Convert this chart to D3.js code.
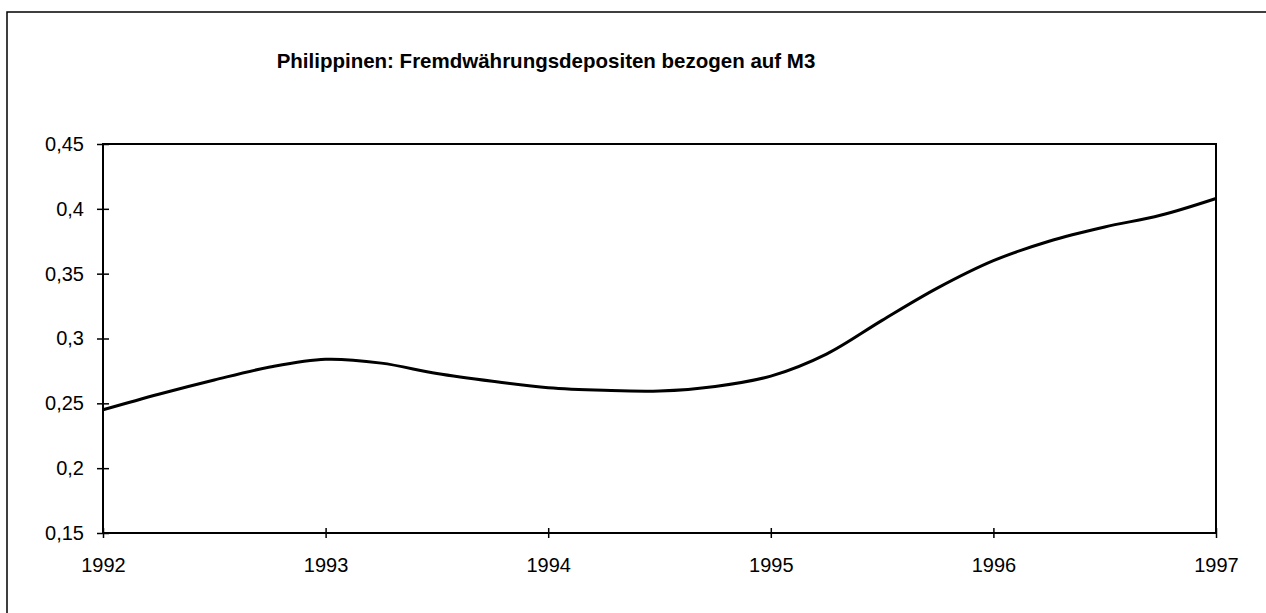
<!DOCTYPE html>
<html>
<head>
<meta charset="utf-8">
<script src="https://cdn.jsdelivr.net/npm/d3@7"></script>
<style>
  html, body { margin: 0; padding: 0; background: #fff; }
  svg { display: block; }
  .axis text { font-family: Arial, "Liberation Sans", sans-serif; font-size: 20px; fill: #000; }
  .axis path { display: none; }
  .axis line { stroke: #000; stroke-width: 1.5px; }
  .title { font-family: Arial, "Liberation Sans", sans-serif; font-size: 20.5px; font-weight: bold; }
</style>
</head>
<body>
<div id="chart"></div>
<script>
// quarterly values
const periods = [1992, 1992.25, 1992.5, 1992.75, 1993, 1993.25, 1993.5, 1993.75,
  1994, 1994.25, 1994.5, 1994.75, 1995, 1995.25, 1995.5, 1995.75,
  1996, 1996.25, 1996.5, 1996.75, 1997];
const ratio = [0.245, 0.257, 0.268, 0.278, 0.284, 0.281, 0.273, 0.267,
  0.262, 0.260, 0.2595, 0.263, 0.271, 0.288, 0.314, 0.339,
  0.360, 0.375, 0.386, 0.395, 0.408];
const xTicks = [1992, 1993, 1994, 1995, 1996, 1997];
const yTicks = [0.15, 0.2, 0.25, 0.3, 0.35, 0.4, 0.45];
const title = 'Philippinen: Fremdwährungsdepositen bezogen auf M3';

const width = 1266, height = 613;
const margin = { top: 144, right: 50, bottom: 80, left: 103 };
const innerW = 1216 - margin.left;
const innerH = 533 - margin.top;

const de = d3.formatLocale({ decimal: ',', thousands: '.', grouping: [3], currency: ['', ' €'] });
const fmt = de.format('.2~f');

const svg = d3.select('#chart').append('svg')
  .attr('width', width)
  .attr('height', height);

// outer chart frame (cropped by the page)
svg.append('rect')
  .attr('x', 7).attr('y', 12)
  .attr('width', width + 20).attr('height', height + 20)
  .attr('fill', 'none').attr('stroke', '#000').attr('stroke-width', 1.5);

svg.append('text')
  .attr('class', 'title')
  .attr('x', 546).attr('y', 68)
  .attr('text-anchor', 'middle')
  .text(title);

const chart = svg.append('g')
  .attr('transform', `translate(${margin.left}, ${margin.top})`);

const x = d3.scaleLinear().domain([1992, 1997]).range([0, innerW]);
const y = d3.scaleLinear().domain([0.15, 0.45]).range([innerH, 0]);

// plot frame
chart.append('rect')
  .attr('width', innerW).attr('height', innerH)
  .attr('fill', 'none').attr('stroke', '#000').attr('stroke-width', 2);

const yAxis = chart.append('g')
  .attr('class', 'axis axis-y')
  .call(d3.axisLeft(y).tickValues(yTicks).tickFormat(fmt).tickSize(6).tickPadding(13));
yAxis.selectAll('.tick line').attr('x1', 6);

const xAxis = chart.append('g')
  .attr('class', 'axis axis-x')
  .attr('transform', `translate(0, ${innerH})`)
  .call(d3.axisBottom(x).tickValues(xTicks).tickFormat(d3.format('d')).tickSize(5).tickPadding(20));
xAxis.selectAll('.tick line').attr('y1', -5);

const valueLine = d3.line()
  .x((d, i) => x(periods[i]))
  .y(d => y(d))
  .curve(d3.curveCatmullRom.alpha(0.5));

chart.append('path')
  .datum(ratio)
  .attr('fill', 'none')
  .attr('stroke', '#000')
  .attr('stroke-width', 3)
  .attr('stroke-linejoin', 'round')
  .attr('d', valueLine);
</script>
</body>
</html>
